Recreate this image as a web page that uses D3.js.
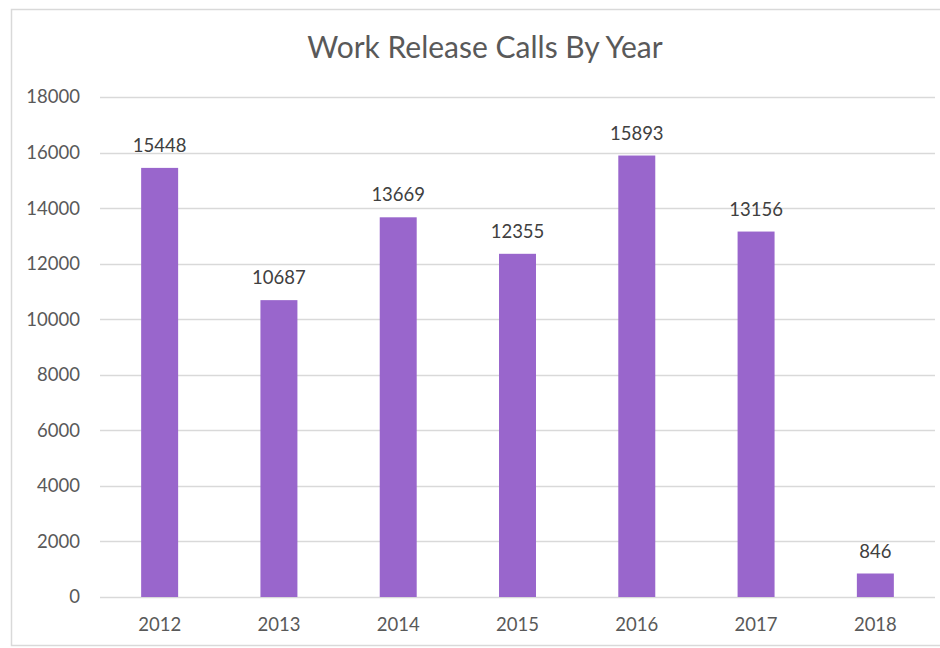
<!DOCTYPE html>
<html>
<head>
<meta charset="utf-8">
<script src="https://cdn.jsdelivr.net/npm/d3@7"></script>
<style>
  html, body { margin: 0; padding: 0; background: #fff; }
  svg { display: block; font-family: Lato, "Open Sans", sans-serif; }
</style>
</head>
<body>
<svg id="chart" width="940" height="648"></svg>
<script>
// Yearly call counts
const years = ["2012", "2013", "2014", "2015", "2016", "2017", "2018"];
const calls = [15448, 10687, 13669, 12355, 15893, 13156, 846];
const yTicks = [0, 2000, 4000, 6000, 8000, 10000, 12000, 14000, 16000, 18000];
const title = "Work Release Calls By Year";

const svg = d3.select("#chart");
const W = 940, H = 648;
const margin = { top: 97, right: 5, bottom: 51, left: 100 };

// chart frame
svg.append("rect")
  .attr("x", 11.5).attr("y", 9.5)
  .attr("width", W + 10).attr("height", 636)
  .attr("fill", "#fff").attr("stroke", "#d9d9d9").attr("stroke-width", 1.5);

const x = d3.scaleBand()
  .domain(years)
  .range([margin.left, W - margin.right])
  .paddingInner(0.69)
  .paddingOuter(0.345);

const y = d3.scaleLinear()
  .domain([0, 18000])
  .range([H - margin.bottom, margin.top]);

// horizontal gridlines
svg.append("g")
  .selectAll("line")
  .data(yTicks)
  .join("line")
  .attr("x1", margin.left).attr("x2", W - margin.right)
  .attr("y1", d => Math.round(y(d)) + 0.5).attr("y2", d => Math.round(y(d)) + 0.5)
  .attr("stroke", "#d9d9d9").attr("stroke-width", 1.5);

// y-axis labels
const yAxis = d3.axisLeft(y).tickValues(yTicks).tickSize(0).tickPadding(20).tickFormat(d3.format("d"));
const gy = svg.append("g").attr("transform", `translate(${margin.left},0)`).call(yAxis);
gy.select(".domain").remove();
gy.selectAll("text").attr("fill", "#595959").attr("font-size", 18.5).attr("font-family", "Lato, sans-serif");

// x-axis labels
const xAxis = d3.axisBottom(x).tickSize(0).tickPadding(21);
const gx = svg.append("g").attr("transform", `translate(0,${H - margin.bottom})`).call(xAxis);
gx.select(".domain").remove();
gx.selectAll("text").attr("fill", "#595959").attr("font-size", 18.5).attr("font-family", "Lato, sans-serif");

// bars
svg.append("g")
  .selectAll("rect")
  .data(years)
  .join("rect")
  .attr("x", d => x(d))
  .attr("width", x.bandwidth())
  .attr("y", (d, i) => y(calls[i]))
  .attr("height", (d, i) => y(0) - y(calls[i]))
  .attr("fill", "#9966cc");

// value labels
svg.append("g")
  .selectAll("text")
  .data(years)
  .join("text")
  .attr("x", d => x(d) + x.bandwidth() / 2)
  .attr("y", (d, i) => y(calls[i]) - 16)
  .attr("text-anchor", "middle")
  .attr("fill", "#404040")
  .attr("font-size", 18.5)
  .text((d, i) => calls[i]);

// title
svg.append("text")
  .attr("x", 485).attr("y", 58)
  .attr("text-anchor", "middle")
  .attr("fill", "#595959")
  .attr("font-size", 30)
  .text(title);
</script>
</body>
</html>
